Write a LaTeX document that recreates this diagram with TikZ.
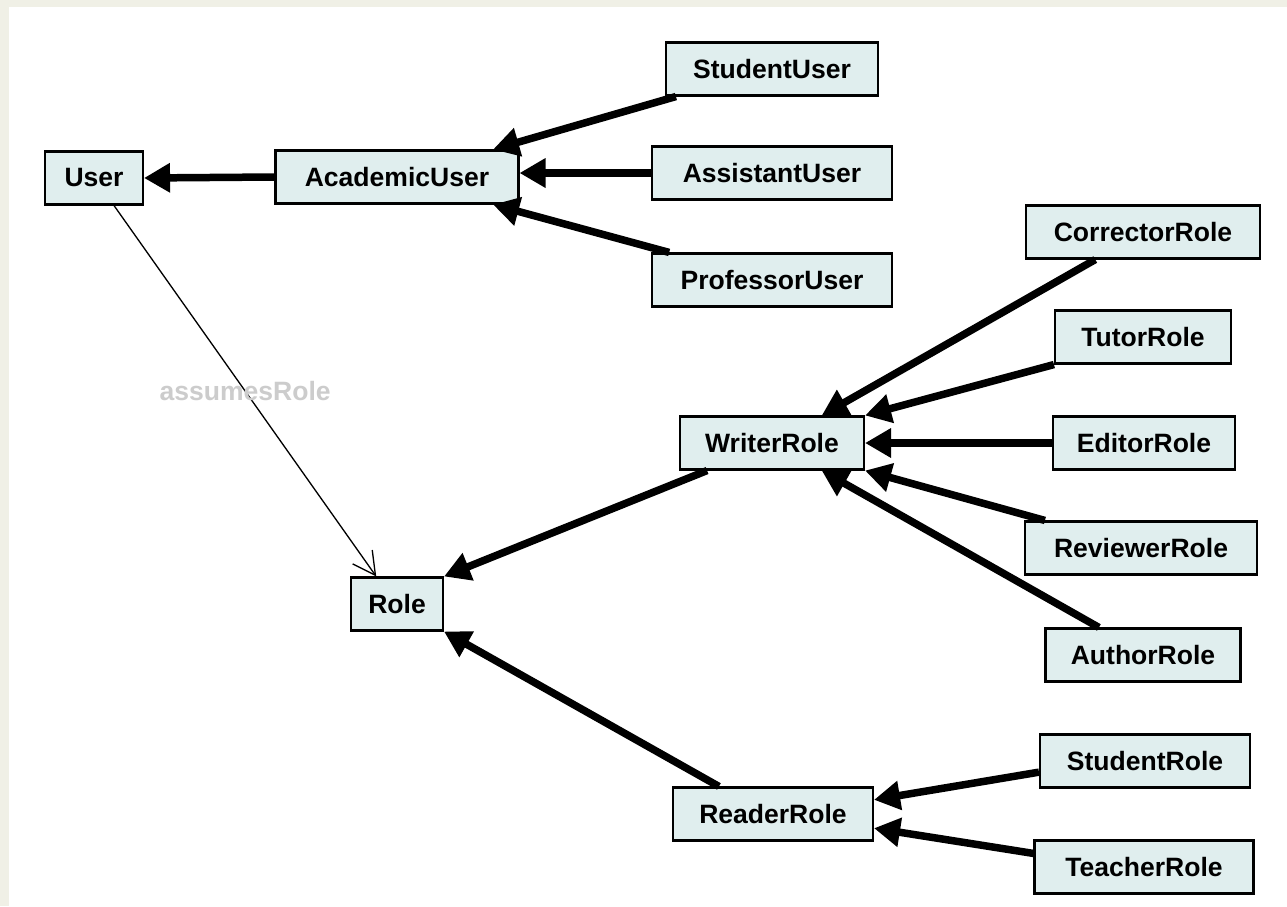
\documentclass[tikz,border=0pt]{standalone}
\usepackage{fontspec}
\setmainfont{Liberation Sans}
\usetikzlibrary{arrows.meta}
\definecolor{boxfill}{RGB}{224,238,238}
\definecolor{pagebg}{RGB}{240,240,230}
\definecolor{lblgray}{RGB}{204,204,204}
\tikzset{
  cls/.style={draw,line width=1.2pt,fill=boxfill,minimum height=1.06cm,inner sep=0pt,
    font=\fontsize{15.1}{17}\selectfont\bfseries},
  isa/.style={line width=0.15cm,-{Triangle[length=0.52cm,width=0.56cm]}},
  assoc/.style={line width=0.75pt,-{Straight Barb[length=0.45cm,width=0.48cm]}}
}

\begin{document}
\begin{tikzpicture}[x=0.02cm,y=-0.02cm]
			\fill[pagebg] (0,0) rectangle (1287,906);
			\fill[white] (9,7) rectangle (1287,906);
			% users
			\node[cls,minimum width=1.96cm] (User) at (94,178) {User};
			\node[cls,minimum width=4.86cm] (AcademicUser) at (397,177) {AcademicUser};
			\node[cls,minimum width=4.24cm] (StudentUser) at (772,69) {StudentUser};
			\node[cls,minimum width=4.8cm] (AssistantUser) at (772,173) {AssistantUser};
			\node[cls,minimum width=4.8cm] (ProfessorUser) at (772,280) {ProfessorUser};
			% roles
			\node[cls,minimum width=1.84cm] (Role) at (397,604) {Role};
			\node[cls,minimum width=3.68cm] (WriterRole) at (772,443) {WriterRole};
			\node[cls,minimum width=4cm] (ReaderRole) at (773,814) {ReaderRole};
			\node[cls,minimum width=4.68cm] (CorrectorRole) at (1143,232) {CorrectorRole};
			\node[cls,minimum width=3.52cm] (TutorRole) at (1143,337) {TutorRole};
			\node[cls,minimum width=3.64cm] (EditorRole) at (1144,443) {EditorRole};
			\node[cls,minimum width=4.64cm] (ReviewerRole) at (1141,548) {ReviewerRole};
			\node[cls,minimum width=3.9cm] (AuthorRole) at (1143,655) {AuthorRole};
			\node[cls,minimum width=4.2cm] (StudentRole) at (1145,761) {StudentRole};
			\node[cls,minimum width=4.38cm] (TeacherRole) at (1144,867) {TeacherRole};
			% generalisations
			\draw[isa] (AcademicUser.west)--(User.east);
			\draw[isa] (StudentUser.196)--(AcademicUser.16);
			\draw[isa] (AssistantUser.west)--(AcademicUser.east |- AssistantUser.west);
			\draw[isa] (ProfessorUser.165)--(AcademicUser.-16);
			\draw[isa] (CorrectorRole.210)--(WriterRole.29);
			\draw[isa] (TutorRole.south west)--(WriterRole.north east);
			\draw[isa] (EditorRole.west)--(WriterRole.east);
			\draw[isa] (ReviewerRole.164)--(WriterRole.south east);
			\draw[isa] (AuthorRole.148)--(WriterRole.-29);
			\draw[isa] (WriterRole.203)--(Role.north east);
			\draw[isa] (ReaderRole.153)--(Role.south east);
			\draw[isa] (StudentRole.186)--(ReaderRole.8);
			\draw[isa] (TeacherRole.173)--(ReaderRole.-8);
			% association
			\draw[assoc] (User.-54)--node[pos=0.5,text=lblgray,font=\fontsize{15.1}{17}\selectfont\bfseries]{assumesRole}(Role.127);
		\end{tikzpicture}
\end{document}
